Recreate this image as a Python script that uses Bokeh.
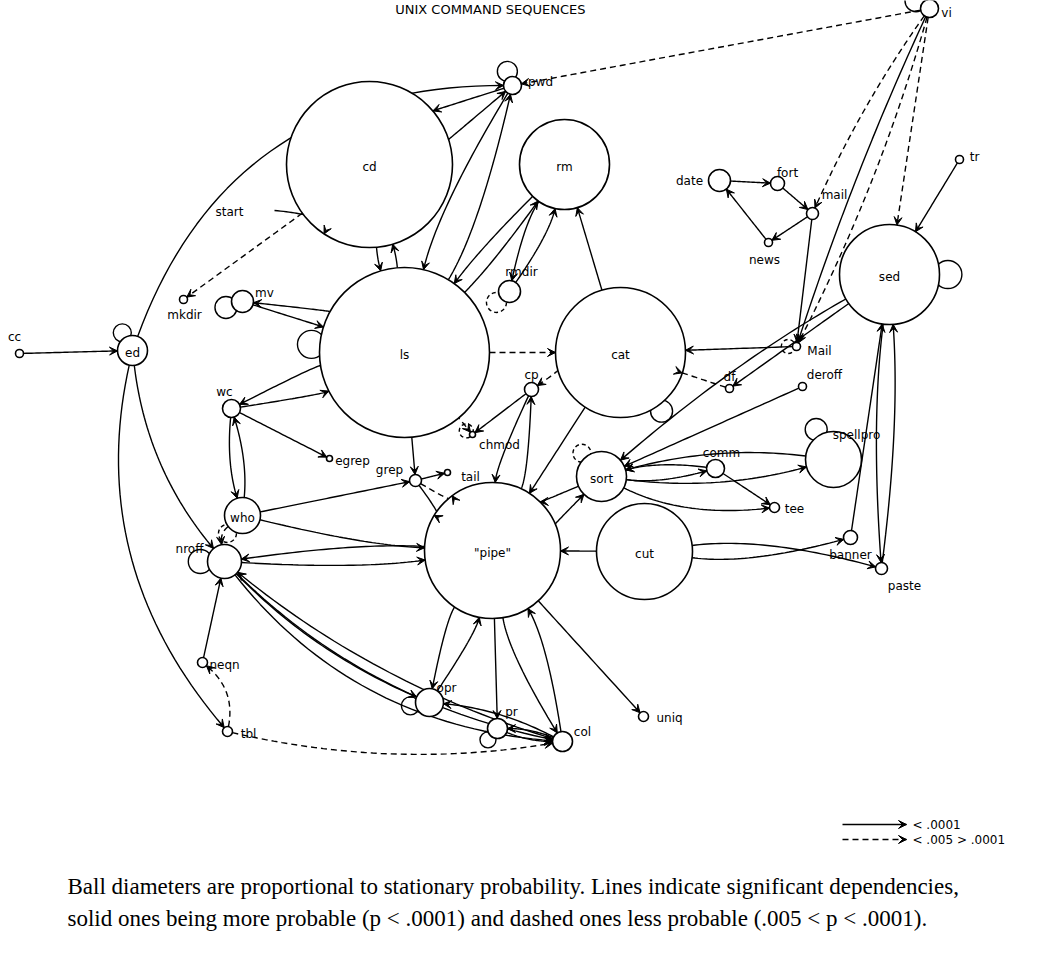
import numpy as np
from bokeh.plotting import figure
from bokeh.models import Arrow, VeeHead
from bokeh.core.properties import value
from bokeh.embed import file_html
from bokeh.resources import INLINE

# nodes: name -> (x, y, radius) in picture pixels
node_names = ["cd", "pwd", "vi", "tr", "rm", "date", "fort", "mail", "news", "sed",
              "ed", "cc", "mkdir", "mv", "ls", "rmdir", "cat", "Mail", "df", "deroff",
              "cp", "chmod", "wc", "egrep", "tail", "grep", "spellpro", "comm", "sort",
              "tee", "who", "pipe", "cut", "banner", "paste", "nroff", "neqn", "opr",
              "pr", "col", "uniq", "tbl", "start"]
node_x = [385, 528, 945, 975, 580, 735, 793, 828, 784, 905,
          148, 35, 199, 258, 420, 525, 636, 812, 745, 818,
          547, 488, 247, 345, 463, 431, 849, 731, 617,
          790, 258, 508, 660, 866, 897, 240, 218, 445,
          513, 578, 659, 243, 290]
node_y = [180, 101, 24, 175, 180, 196, 199, 229, 258, 290,
          366, 369, 315, 317, 368, 307, 368, 362, 404, 402,
          405, 450, 424, 474, 488, 496, 475, 484, 492,
          523, 531, 566, 567, 553, 584, 577, 678, 718,
          744, 757, 732, 747, 226]
node_r = [83, 9, 9, 4, 45, 11, 7, 6, 4, 50,
          15, 4, 4, 11, 85, 11, 65, 4, 4, 4,
          7, 3, 9, 3, 3, 6, 28, 9, 25,
          5, 18, 68, 48, 7, 6, 17, 5, 14,
          10, 10, 5, 5, 0]
node_labels = ["cd", "pwd", "vi", "tr", "rm", "date", "fort", "mail", "news", "sed",
               "ed", "cc", "mkdir", "mv", "ls", "rmdir", "cat", "Mail", "df", "deroff",
               "cp", "chmod", "wc", "egrep", "tail", "grep", "spellpro", "comm", "sort",
               "tee", "who", "\"pipe\"", "cut", "banner", "paste", "nroff", "neqn", "opr",
               "pr", "col", "uniq", "tbl", "start"]

# edges: (from, to, dashed, bend)
edges = [
    ("cc", "ed", 0, 0), ("ed", "nroff", 0, 0.15), ("ed", "pwd", 0, -0.35), ("ed", "tbl", 0, 0.25),
    ("pwd", "cd", 0, 0.1), ("cd", "pwd", 0, 0.1), ("pwd", "ls", 0, 0.08), ("ls", "pwd", 0, 0.08),
    ("vi", "pwd", 1, 0), ("vi", "sed", 1, 0), ("vi", "Mail", 0, 0.03), ("vi", "Mail", 1, -0.05),
    ("vi", "mail", 1, 0.05), ("tr", "sed", 0, 0),
    ("date", "fort", 0, 0), ("fort", "mail", 0, 0), ("mail", "news", 0, 0), ("news", "date", 0, 0),
    ("mail", "Mail", 0, 0), ("Mail", "cat", 0, 0), ("sed", "df", 0, 0), ("df", "cat", 1, 0),
    ("sed", "sort", 0, 0.05), ("deroff", "sort", 0, 0),
    ("cd", "ls", 0, 0.05), ("ls", "cd", 0, 0.05), ("start", "cd", 0, 0.3), ("cd", "mkdir", 1, 0),
    ("mv", "ls", 0, 0), ("ls", "mv", 0, 0.1), ("ls", "cat", 1, 0),
    ("ls", "rm", 0, 0.04), ("rm", "ls", 0, 0.04), ("rmdir", "rm", 0, 0.1), ("rm", "rmdir", 0, 0.1),
    ("cat", "rm", 0, 0), ("cat", "pipe", 0, 0), ("cat", "cp", 1, 0.1), ("cp", "chmod", 0, 0),
    ("cp", "pipe", 0, 0.1), ("pipe", "cp", 0, 0.1), ("ls", "chmod", 1, 0),
    ("ls", "wc", 0, 0.08), ("wc", "ls", 0, 0.08), ("wc", "who", 0, 0.1), ("who", "wc", 0, 0.1),
    ("wc", "egrep", 0, 0), ("ls", "grep", 0, 0), ("grep", "pipe", 0, 0.1), ("grep", "pipe", 1, -0.1),
    ("grep", "tail", 0, 0), ("who", "grep", 0, 0), ("who", "pipe", 0, 0.05), ("who", "nroff", 1, 0.3),
    ("nroff", "pipe", 0, 0.05), ("pipe", "nroff", 0, 0.05), ("nroff", "opr", 0, 0.1),
    ("nroff", "col", 0, 0.15), ("nroff", "col", 0, 0.22), ("col", "nroff", 0, -0.1),
    ("neqn", "nroff", 0, 0), ("tbl", "neqn", 1, 0.3), ("tbl", "col", 1, 0.1),
    ("pipe", "opr", 0, 0.1), ("opr", "pipe", 0, 0.1), ("pipe", "pr", 0, 0),
    ("pipe", "col", 0, 0.1), ("col", "pipe", 0, 0.1), ("pipe", "uniq", 0, 0),
    ("pr", "col", 0, 0.1), ("col", "pr", 0, 0.1), ("col", "opr", 0, 0.1),
    ("pipe", "sort", 0, 0.1), ("sort", "pipe", 0, 0.1), ("sort", "comm", 0, 0.1),
    ("comm", "sort", 0, 0.1), ("comm", "tee", 0, 0), ("sort", "spellpro", 0, 0.1),
    ("spellpro", "sort", 0, 0.1), ("sort", "tee", 0, 0.15), ("cut", "pipe", 0, 0),
    ("cut", "paste", 0, -0.1), ("cut", "banner", 0, 0.1), ("banner", "sed", 0, 0),
    ("sed", "paste", 0, 0.05), ("paste", "sed", 0, 0.05),
]

# self loops: node -> (angle in degrees, loop radius, dashed)
loops = {"pwd": (110, 10, 0), "vi": (150, 11, 0), "ed": (120, 9, 0), "mv": (200, 11, 0),
         "ls": (175, 14, 0), "cat": (-55, 11, 0), "sed": (0, 14, 0), "chmod": (150, 7, 1),
         "spellpro": (120, 11, 0), "sort": (130, 9, 1), "nroff": (180, 12, 0), "opr": (190, 9, 0),
         "pr": (230, 8, 0), "who": (230, 9, 1), "rmdir": (220, 10, 1), "Mail": (180, 7, 1)}

label_pos = {"cd": (385, 182), "pwd": (556, 97), "vi": (962, 28), "tr": (990, 172), "rm": (580, 182),
             "date": (705, 196), "fort": (803, 188), "mail": (850, 210), "news": (780, 275),
             "sed": (905, 292), "ed": (148, 368), "cc": (30, 352), "mkdir": (200, 330), "mv": (280, 308),
             "ls": (420, 370), "rmdir": (537, 287), "cat": (636, 370), "Mail": (835, 366),
             "df": (745, 392), "deroff": (840, 390), "cp": (547, 390), "chmod": (515, 460),
             "wc": (240, 407), "egrep": (368, 476), "tail": (486, 492), "grep": (405, 485),
             "spellpro": (872, 450), "comm": (737, 468), "sort": (617, 494), "tee": (810, 524),
             "who": (258, 533), "pipe": (508, 568), "cut": (660, 569), "banner": (866, 570),
             "paste": (920, 601), "nroff": (205, 564), "neqn": (240, 680), "opr": (462, 703),
             "pr": (527, 727), "col": (598, 747), "uniq": (685, 733), "tbl": (264, 749),
             "start": (245, 227)}

nodes = {n: (x, y, r) for n, x, y, r in zip(node_names, node_x, node_y, node_r)}

p = figure(width=1023, height=952, x_range=(16, 1039), y_range=(968, 16),
           output_backend="svg", toolbar_location=None, min_border=0)
p.axis.visible = False
p.grid.visible = False
p.outline_line_color = None

def unit(v):
    n = np.hypot(*v)
    return v / n if n else v

for a, b, dashed, bend in edges:
    sx, sy, sr = nodes[a]
    tx, ty, tr = nodes[b]
    s = np.array([sx, sy], float)
    t = np.array([tx, ty], float)
    d = t - s
    c = (s + t) / 2 + bend * np.array([-d[1], d[0]])
    p0 = s + sr * unit(c - s)
    p2 = t + tr * unit(c - t)
    ts = np.linspace(0, 1, 40)[:, None]
    pts = (1 - ts) ** 2 * p0 + 2 * (1 - ts) * ts * c + ts ** 2 * p2
    dash = "6 4" if dashed else "solid"
    p.line(pts[:, 0], pts[:, 1], line_color="black", line_width=1.4, line_dash=dash)
    q = pts[-4]
    p.add_layout(Arrow(end=VeeHead(size=8, fill_color="black", line_color="black"),
                       x_start=q[0], y_start=q[1], x_end=p2[0], y_end=p2[1], line_alpha=0))

for n, (ang, lr, dashed) in loops.items():
    x, y, r = nodes[n]
    a = np.radians(ang)
    cx = x + (r + lr * 0.6) * np.cos(a)
    cy = y - (r + lr * 0.6) * np.sin(a)
    p.circle(cx, cy, radius=lr, fill_color=None, line_color="black", line_width=1.4,
             line_dash="4 3" if dashed else "solid")

vis = [i for i, r in enumerate(node_r) if r > 0]
p.circle([node_x[i] for i in vis], [node_y[i] for i in vis], radius=[node_r[i] for i in vis],
         fill_color="white", line_color="black", line_width=1.6)

for n, lab in zip(node_names, node_labels):
    lx, ly = label_pos[n]
    p.text([lx], [ly], text=[lab], text_font=value("DejaVu Sans"), text_font_size="12px",
           text_align="center", text_baseline="middle", text_color="black")

p.text([510], [25], text=["UNIX  COMMAND  SEQUENCES"], text_font=value("DejaVu Sans"),
       text_font_size="13px", text_align="center", text_baseline="middle")

# legend
leg_y = [840, 855]
leg_text = ["<  .0001", "<  .005 > .0001"]
for yy, dash, txt in zip(leg_y, ["solid", "6 4"], leg_text):
    p.line([858, 922], [yy, yy], line_color="black", line_width=1.4, line_dash=dash)
    p.add_layout(Arrow(end=VeeHead(size=8, fill_color="black"), x_start=910, y_start=yy,
                       x_end=922, y_end=yy, line_alpha=0))
    p.text([928], [yy], text=[txt], text_font=value("DejaVu Sans"), text_font_size="12px",
           text_baseline="middle")

caption = ["Ball diameters are proportional to stationary probability.  Lines indicate significant dependencies,",
           "solid ones being more probable (p < .0001) and dashed ones less probable (.005 < p < .0001)."]
for yy, line in zip([902, 934], caption):
    p.text([83], [yy], text=[line], text_font=value("Liberation Serif"), text_font_size="23px",
           text_baseline="middle")

open("out.html", "w").write(file_html(p, INLINE))
